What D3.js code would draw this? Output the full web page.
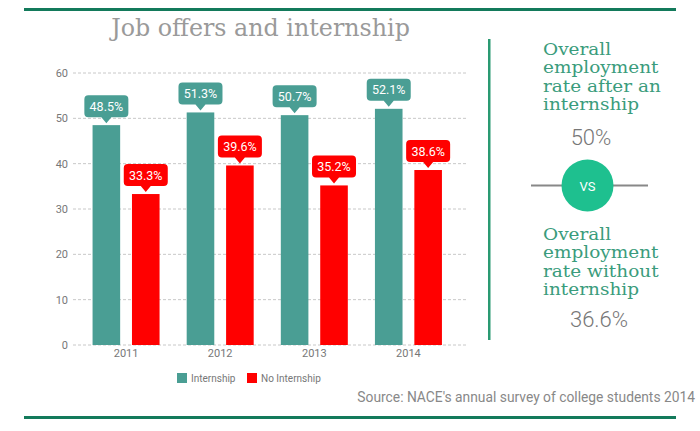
<!DOCTYPE html>
<html>
<head>
<meta charset="utf-8">
<script src="https://cdn.jsdelivr.net/npm/d3@7"></script>
<style>
  html, body { margin: 0; padding: 0; background: #fff; }
  svg { display: block; }
</style>
</head>
<body>
<svg id="chart" width="700" height="431"></svg>
<script>
const years = ["2011", "2012", "2013", "2014"];
const internship = [48.5, 51.3, 50.7, 52.1];
const noInternship = [33.3, 39.6, 35.2, 38.6];
const seriesNames = ["Internship", "No Internship"];
const yTicks = [0, 10, 20, 30, 40, 50, 60];
const titleText = "Job offers and internship";
const panelTop = ["Overall", "employment", "rate after an", "internship"];
const panelTopValue = "50%";
const panelBottom = ["Overall", "employment", "rate without", "internship"];
const panelBottomValue = "36.6%";
const sourceText = "Source: NACE's annual survey of college students 2014";

const teal = "#4a9e94";
const red = "#ff0000";
const darkGreen = "#137a5b";
const panelGreen = "#3a9c7c";
const vsGreen = "#1ec08f";

const svg = d3.select("#chart");

function fit(t, target) {
  const w = t.node().getComputedTextLength();
  const fs = parseFloat(t.style("font-size"));
  t.style("font-size", (fs * target / w) + "px");
}

// frame lines
svg.append("rect").attr("x", 24).attr("y", 8).attr("width", 652).attr("height", 3).attr("fill", darkGreen);
svg.append("rect").attr("x", 24).attr("y", 416).attr("width", 652).attr("height", 3).attr("fill", darkGreen);

// title
const title = svg.append("text")
  .attr("x", 260.5).attr("y", 36)
  .attr("text-anchor", "middle")
  .style("font-family", "'DejaVu Serif'")
  .style("font-size", "24px")
  .attr("fill", "#9a9a9a")
  .text(titleText);
fit(title, 299);

// scales
const y = d3.scaleLinear().domain([0, 60]).range([345, 73]);
const x0 = d3.scaleBand().domain(years).range([79, 455.5]).paddingInner(0).paddingOuter(0);
const x1 = d3.scaleBand().domain(seriesNames).range([x0.bandwidth()/2 - 33.5, x0.bandwidth()/2 + 33.5]).paddingInner(0.3).paddingOuter(0);

// grid
const grid = svg.append("g");
grid.selectAll("line").data(yTicks).join("line")
  .attr("x1", 73).attr("x2", 466)
  .attr("y1", d => y(d)).attr("y2", d => y(d))
  .attr("stroke", "#c8c8c8").attr("stroke-width", 1)
  .attr("stroke-dasharray", "3,2");

// y axis labels
const yAxis = d3.axisLeft(y).tickValues(yTicks).tickSize(0).tickPadding(0);
const ya = svg.append("g").attr("transform", "translate(68,0)").call(yAxis);
ya.select(".domain").remove();
ya.selectAll("text").attr("fill", "#777").style("font-family", "Roboto, sans-serif").style("font-size", "11px");

// x axis labels
const xAxis = d3.axisBottom(x0).tickSize(0).tickPadding(0);
const xa = svg.append("g").attr("transform", "translate(0,349)").call(xAxis);
xa.select(".domain").remove();
xa.selectAll("text").attr("fill", "#777").style("font-family", "Roboto, sans-serif").style("font-size", "11px");

// bars
const data = years.map((yr, i) => ({ year: yr, vals: [
  { key: seriesNames[0], v: internship[i], c: teal },
  { key: seriesNames[1], v: noInternship[i], c: red }
]}));

const groups = svg.append("g").selectAll("g").data(data).join("g")
  .attr("transform", d => `translate(${x0(d.year)},0)`);

groups.selectAll("rect").data(d => d.vals).join("rect")
  .attr("x", d => x1(d.key))
  .attr("width", x1.bandwidth())
  .attr("y", d => y(d.v))
  .attr("height", d => y(0) - y(d.v))
  .attr("fill", d => d.c);

// callout labels
const bw = 44, bh = 22, gap = 8, tipGap = 2, pw = 5;
const callouts = groups.selectAll("g.callout").data(d => d.vals).join("g")
  .attr("class", "callout")
  .attr("transform", d => `translate(${x1(d.key) + x1.bandwidth()/2},${y(d.v)})`);
callouts.append("path")
  .attr("d", () => {
    const r = 4, top = -gap - bh, bot = -gap, l = -bw/2, rr = bw/2;
    return `M${l + r},${top} H${rr - r} Q${rr},${top} ${rr},${top + r} V${bot - r} Q${rr},${bot} ${rr - r},${bot}`
      + ` H${pw} L0,${-tipGap} L${-pw},${bot} H${l + r} Q${l},${bot} ${l},${bot - r} V${top + r} Q${l},${top} ${l + r},${top} Z`;
  })
  .attr("fill", d => d.c);
callouts.append("text")
  .attr("x", 0).attr("y", -gap - bh/2 + 4.5)
  .attr("text-anchor", "middle")
  .attr("fill", "#fff")
  .style("font-family", "Roboto, sans-serif")
  .style("font-size", "12.5px")
  .text(d => d.v.toFixed(1) + "%");

// legend
const legend = svg.append("g");
const legItems = [
  { name: seriesNames[0], c: teal, x: 177 },
  { name: seriesNames[1], c: red, x: 247 }
];
legItems.forEach(it => {
  legend.append("rect").attr("x", it.x).attr("y", 373).attr("width", 10).attr("height", 10).attr("fill", it.c);
  legend.append("text").attr("x", it.x + 14).attr("y", 382)
    .attr("fill", "#777").style("font-family", "Roboto, sans-serif").style("font-size", "10px")
    .text(it.name);
});

// right panel
svg.append("rect").attr("x", 488).attr("y", 39).attr("width", 2.5).attr("height", 301).attr("fill", "#2a9a72");

function panelText(lines, baseY) {
  const g = svg.append("g").attr("transform", "translate(543,0) scale(1.17,1)");
  lines.forEach((ln, i) => {
    g.append("text")
      .attr("x", 0).attr("y", baseY + i * 18.5)
      .style("font-family", "'DejaVu Serif'")
      .style("font-size", "15.8px")
      .attr("fill", panelGreen)
      .text(ln);
  });
  return g;
}
panelText(panelTop, 55);
panelText(panelBottom, 240);

svg.append("text").attr("x", 591).attr("y", 145)
  .attr("text-anchor", "middle")
  .style("font-family", "Roboto, sans-serif").style("font-weight", 300).style("font-size", "22px")
  .attr("fill", "#777").text(panelTopValue);
svg.append("text").attr("x", 599).attr("y", 327)
  .attr("text-anchor", "middle")
  .style("font-family", "Roboto, sans-serif").style("font-weight", 300).style("font-size", "22px")
  .attr("fill", "#777").text(panelBottomValue);

// vs
svg.append("line").attr("x1", 531).attr("x2", 648).attr("y1", 185.5).attr("y2", 185.5)
  .attr("stroke", "#888").attr("stroke-width", 2);
svg.append("circle").attr("cx", 587.5).attr("cy", 185.5).attr("r", 26).attr("fill", vsGreen);
svg.append("text").attr("x", 587.5).attr("y", 190.5).attr("text-anchor", "middle")
  .style("font-family", "Roboto, sans-serif").style("font-size", "13px")
  .attr("fill", "#fff").text("VS");

// source
const src = svg.append("text").attr("x", 695).attr("y", 402).attr("text-anchor", "end")
  .style("font-family", "Roboto, sans-serif").style("font-size", "13px")
  .attr("fill", "#888").text(sourceText);
fit(src, 338);
</script>
</body>
</html>
